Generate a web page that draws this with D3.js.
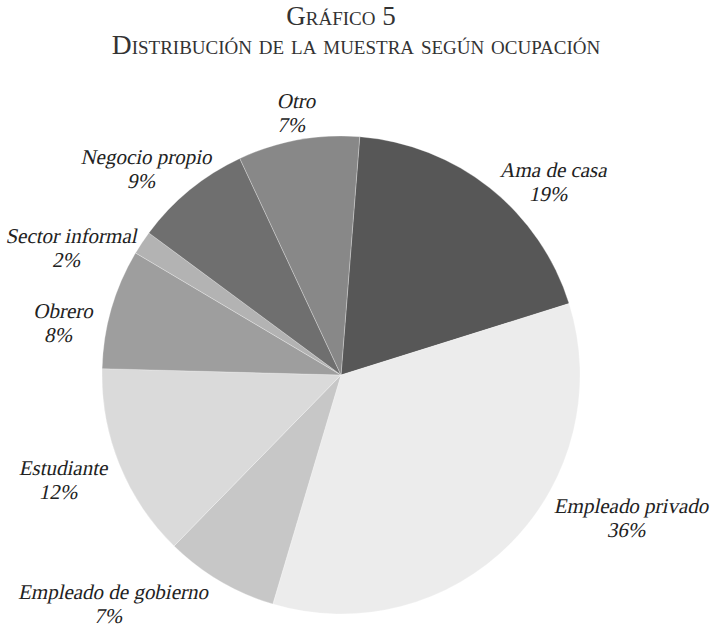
<!DOCTYPE html>
<html>
<head>
<meta charset="utf-8">
<script src="https://cdn.jsdelivr.net/npm/d3@7"></script>
<style>
  html, body { margin: 0; padding: 0; background: #fff; }
  svg { display: block; }
</style>
</head>
<body>
<svg class="canvas" width="712" height="627"></svg>
<script>
'use strict';

// Occupations, clockwise from the top.
const categories = ['Ama de casa', 'Empleado privado', 'Empleado de gobierno', 'Estudiante',
  'Obrero', 'Sector informal', 'Negocio propio', 'Otro'];
// Slice sizes as measured on the picture (percent).
const shares = [18.9, 34.4, 7.7, 13.1, 8.1, 1.6, 7.9, 8.2];
// Percent text printed next to each slice.
const printed = ['19%', '36%', '7%', '12%', '8%', '2%', '9%', '7%'];
const greys = ['#575757', '#ececec', '#c7c7c7', '#dadada', '#9e9e9e', '#b3b3b3', '#6f6f6f', '#888888'];

const width = 712, height = 627;
const center = { x: 341, y: 375 }, radius = 239;
const startOffset = 4.5 * Math.PI / 180;
const serif = "'Liberation Serif', 'Times New Roman', serif";

// Label anchors relative to pie centre (first-line baseline).
const labelPos = [
  [212, -198], [290, 138], [-228, 224], [-278, 100],
  [-278, -57], [-270, -132], [-195, -211], [-45, -267],
];

const svg = d3.select('.canvas');

svg.append('text')
  .attr('x', 341).attr('y', 25).attr('text-anchor', 'middle')
  .style('font-family', serif).style('font-variant', 'small-caps')
  .style('font-size', '27px').attr('fill', '#333').text('Gráfico 5');
svg.append('text')
  .attr('x', 356).attr('y', 54).attr('text-anchor', 'middle')
  .style('font-family', serif).style('font-variant', 'small-caps')
  .style('font-size', '27.5px').attr('fill', '#333')
  .text('Distribución de la muestra según ocupación');

const pie = d3.pie().sort(null).value(d => d)
  .startAngle(startOffset).endAngle(startOffset + 2 * Math.PI);
const arc = d3.arc().innerRadius(0).outerRadius(radius);
const color = d3.scaleOrdinal(categories, greys);

const g = svg.append('g').attr('transform', `translate(${center.x}, ${center.y})`);

const slices = pie(shares).map((d, i) => ({ ...d, name: categories[i] }));

g.selectAll('path')
  .data(slices)
  .enter()
  .append('path')
  .attr('d', arc)
  .attr('fill', d => color(d.name))
  .attr('stroke', '#fff')
  .attr('stroke-opacity', 0.35)
  .attr('stroke-width', 0.8);

// Slanted upright serif stands in for the italic.
const labels = g.selectAll('text.label')
  .data(slices)
  .enter()
  .append('text')
  .attr('class', 'label')
  .attr('text-anchor', 'middle')
  .style('font-family', serif)
  .style('font-style', 'normal')
  .style('font-size', '21px')
  .attr('fill', '#222')
  .attr('transform', (d, i) => `translate(${labelPos[i][0]}, ${labelPos[i][1]}) skewX(-12)`);

labels.append('tspan').attr('x', 0).attr('y', 0).text(d => d.name);
labels.append('tspan').attr('x', 0).attr('y', 24).text((d, i) => printed[i]);
</script>
</body>
</html>
